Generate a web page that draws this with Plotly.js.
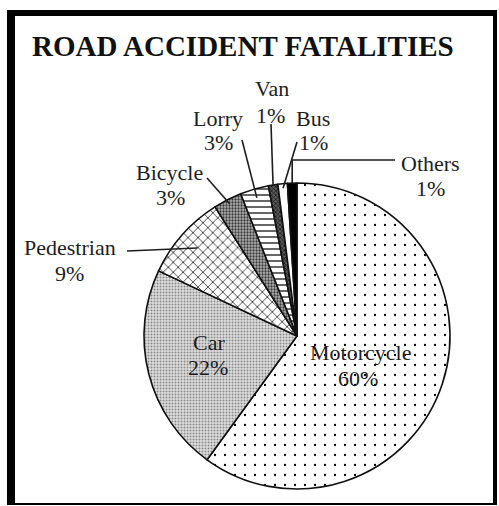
<!DOCTYPE html>
<html>
<head>
<meta charset="utf-8">
<script src="https://cdn.plot.ly/plotly-3.0.1.min.js"></script>
<style>html,body{margin:0;padding:0;background:#fff;}#chart{width:499px;height:506px;}</style>
</head>
<body>
<div id="chart"></div>
<script>
// ---- data ----
const titleText = 'ROAD ACCIDENT FATALITIES';
const labels = ['Motorcycle', 'Car', 'Pedestrian', 'Bicycle', 'Lorry', 'Van', 'Bus', 'Others'];
const values = [60, 22, 9, 3, 3, 1, 1, 1];

// ---- styling ----
const W = 499, H = 506;
const CX = 297, CY = 336, R = 153;
const ink = '#1e1e1e';
const fontFam = '"Liberation Serif", "Times New Roman", serif';
const fs = 22;

const bg      = ['#ffffff', '#dedede', '#ffffff', '#b0b0b0', '#ffffff', '#5a5a5a', '#ffffff', '#000000'];
const fg      = ['#000000', '#8a8a8a', '#111111', '#3a3a3a', '#000000', '#111111', '#000000', '#000000'];
const shapes_ = ['.', '.', 'x', '.', '-', 'x', '', ''];
const psize   = [10, 3, 7, 3, 6, 3, 8, 8];
const solid   = [0.04, 0.35, 0.2, 0.45, 0.2, 0.4, 0.1, 0.1];

// label placement (pixels): name centre, pct centre, leader anchor, tip radius factor
const place = {
  'Motorcycle': {name: [360, 352], pct: [358, 378]},
  'Car':        {name: [209, 342], pct: [208, 367]},
  'Pedestrian': {name: [70, 247],  pct: [69, 273],  from: [[127, 251]], f: 0.87},
  'Bicycle':    {name: [169, 172], pct: [170, 198], from: [[207, 178]], f: 0.97},
  'Lorry':      {name: [218, 118], pct: [218, 143], from: [[242, 140]], f: 0.94},
  'Van':        {name: [272, 89],  pct: [270, 115], from: [[271, 124]], f: 1.0},
  'Bus':        {name: [313, 118], pct: [313, 143], from: [[297, 142]], f: 0.97},
  'Others':     {name: [430, 163], pct: [430, 188], elbowY: 160, endX: 395, f: 1.0}
};

const px = x => x / W;
const py = y => 1 - y / H;

const total = values.reduce((a, b) => a + b, 0);
let cum = 0;
const annotations = [];
const shapes = [];

annotations.push({
  text: '<b>' + titleText + '</b>', x: px(243), y: py(46), xref: 'paper', yref: 'paper',
  showarrow: false, font: {family: fontFam, size: 29, color: '#111'}, xanchor: 'center', yanchor: 'middle'
});

labels.forEach((lab, i) => {
  const mid = 2 * Math.PI * (cum + values[i] / 2) / total;
  cum += values[i];
  const p = place[lab];
  annotations.push({text: lab, x: px(p.name[0]), y: py(p.name[1]), xref: 'paper', yref: 'paper',
    showarrow: false, xanchor: 'center', yanchor: 'middle', font: {family: fontFam, size: fs, color: ink}});
  annotations.push({text: values[i] + '%', x: px(p.pct[0]), y: py(p.pct[1]), xref: 'paper', yref: 'paper',
    showarrow: false, xanchor: 'center', yanchor: 'middle', font: {family: fontFam, size: fs, color: ink}});
  if (p.f) {
    const tx = CX + p.f * R * Math.sin(mid);
    const ty = CY - p.f * R * Math.cos(mid);
    if (p.from) {
      shapes.push({type: 'line', xref: 'paper', yref: 'paper', x0: px(p.from[0][0]), y0: py(p.from[0][1]),
        x1: px(tx), y1: py(ty), line: {color: ink, width: 1.6}, layer: 'above'});
    } else {
      shapes.push({type: 'path', xref: 'paper', yref: 'paper',
        path: `M ${px(tx)} ${py(ty)} L ${px(tx)} ${py(p.elbowY)} L ${px(p.endX)} ${py(p.elbowY)}`,
        line: {color: ink, width: 1.6}, layer: 'above'});
    }
  }
});

// frame
const frame = [[7, 10, 15, 505], [7, 10, 497, 16], [493, 10, 497, 505], [7, 503, 497, 505]];
frame.forEach(f => shapes.push({type: 'rect', xref: 'paper', yref: 'paper', x0: px(f[0]), y0: py(f[1]),
  x1: px(f[2]), y1: py(f[3]), fillcolor: '#000', line: {width: 0}}));

const trace = {
  type: 'pie', labels: labels, values: values, sort: false, direction: 'clockwise', rotation: 0,
  textinfo: 'none', hoverinfo: 'none', showlegend: false,
  domain: {x: [px(CX - R), px(CX + R)], y: [py(CY + R), py(CY - R)]},
  marker: {
    colors: bg,
    line: {color: '#111', width: 1.6},
    pattern: {shape: shapes_, bgcolor: bg, fgcolor: fg, size: psize, solidity: solid, fillmode: 'replace'}
  }
};

Plotly.newPlot('chart', [trace], {
  width: W, height: H, margin: {l: 0, r: 0, t: 0, b: 0},
  paper_bgcolor: '#fff', plot_bgcolor: '#fff', showlegend: false,
  annotations: annotations, shapes: shapes
}, {staticPlot: true});
</script>
</body>
</html>
